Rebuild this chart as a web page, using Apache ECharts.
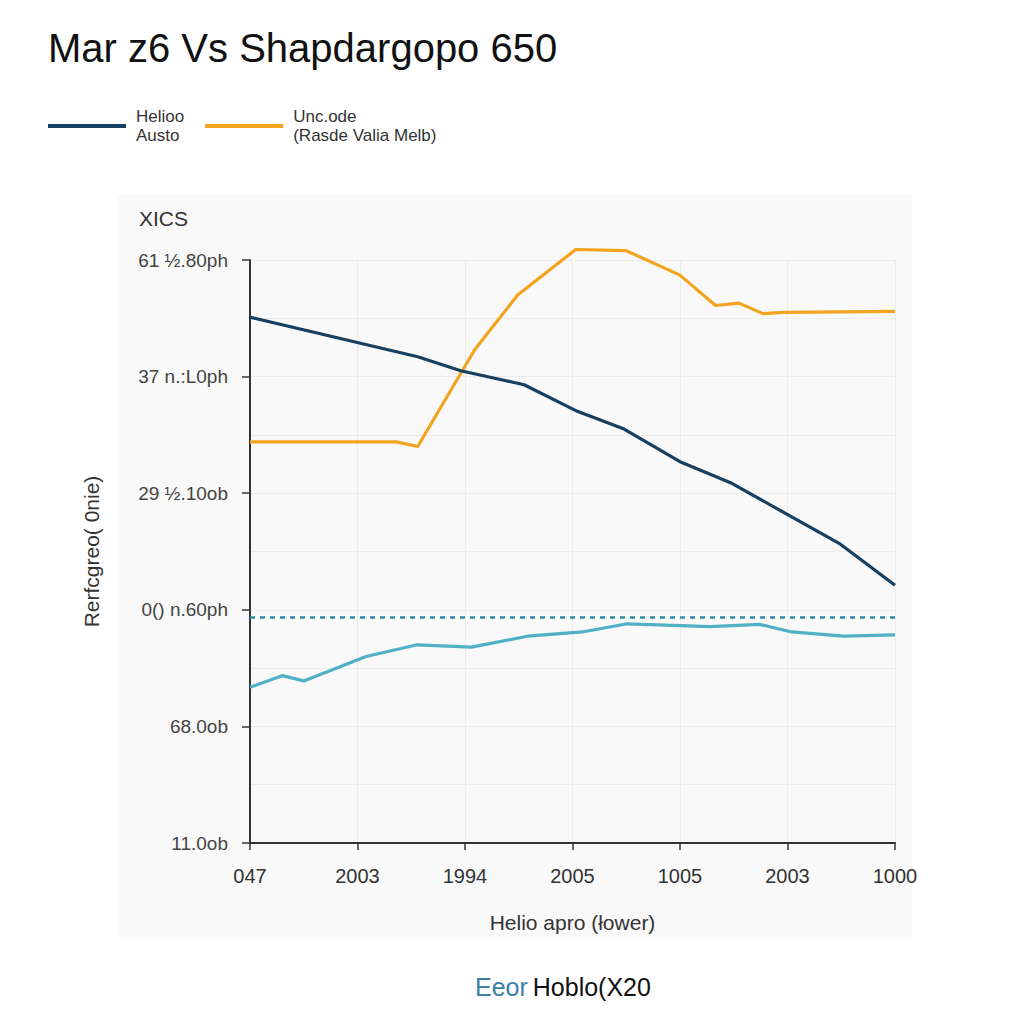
<!DOCTYPE html>
<html>
<head>
<meta charset="utf-8">
<script src="https://cdn.jsdelivr.net/npm/echarts@6/dist/echarts.min.js"></script>
<style>
html,body{margin:0;padding:0;background:#ffffff;}
#chart{width:1024px;height:1024px;}
</style>
</head>
<body>
<div id="chart"></div>
<script>
// ---- data ----
const titleText = "Mar z6 Vs Shapdargopo 650";
const xTickLabels = ["047", "2003", "1994", "2005", "1005", "2003", "1000"];
const yTickLabels = ["11.0ob", "68.0ob", "0() n.60ph", "29 ½.10ob", "37 n.:L0ph", "61 ½.80ph"];
const seriesNames = ["Helioo\nAusto", "Unc.ode\n(Rasde Valia Melb)", "Teal", "Teal ref"];
const navyPoints = [[0,4.51],[1.56,4.17],[1.96,4.05],[2.55,3.93],[3.05,3.70],[3.48,3.55],[4.0,3.27],[4.47,3.09],[5.48,2.57],[6.0,2.21]];
const orangePoints = [[0,3.44],[1.36,3.44],[1.56,3.40],[2.09,4.23],[2.49,4.70],[3.03,5.09],[3.50,5.08],[4.0,4.87],[4.33,4.61],[4.55,4.63],[4.77,4.54],[4.97,4.55],[6.0,4.56]];
const tealPoints = [[0,1.335],[0.30,1.435],[0.50,1.39],[1.08,1.60],[1.555,1.70],[2.06,1.68],[2.59,1.775],[3.09,1.81],[3.51,1.88],[4.28,1.855],[4.74,1.875],[5.04,1.81],[5.52,1.775],[6.0,1.785]];
const tealRefPoints = [[0,1.935],[6,1.935]];
const yAxisName = "Rerfcgreo( 0nie)";
const xAxisName = "Helio apro (łower)";
const yTopLabel = "XICS";
const footerBlue = "Eeor";
const footerBlack = "Hoblo(X20";

const chart = echarts.init(document.getElementById('chart'), null, {renderer: 'svg'});
const option = {
  backgroundColor: '#ffffff',
  animation: false,
  title: [
    {text: titleText, left: 43, top: 23, textStyle: {fontFamily: 'Liberation Sans', fontSize: 40, fontWeight: 'normal', color: '#111'}},
    {text: '{a|' + footerBlue + '} {b|' + footerBlack + '}', left: 470, top: 969, textStyle: {rich: {
      a: {fontFamily: 'Liberation Sans', fontSize: 25, fontWeight: 'normal', color: '#3b7ea6'},
      b: {fontFamily: 'Liberation Sans', fontSize: 25, fontWeight: 'normal', color: '#111'}
    }}}
  ],
  graphic: [
    {type: 'rect', z: -10, shape: {x: 118, y: 195, width: 794, height: 742}, style: {fill: '#f9f9f9'}},
    {type: 'text', left: 139, top: 208, style: {text: yTopLabel, fontFamily: 'Liberation Sans', fontSize: 21, fill: '#333'}}
  ],
  legend: {
    left: 43, top: 102, itemWidth: 78, itemHeight: 4, itemGap: 21, icon: 'rect',
    data: [seriesNames[0], seriesNames[1]],
    textStyle: {fontFamily: 'Liberation Sans', fontSize: 17, color: '#333', lineHeight: 19, padding: [0,0,0,5]}
  },
  grid: {left: 250, right: 129, top: 260, bottom: 181},
  xAxis: {
    type: 'value', min: 0, max: 6, interval: 1,
    name: xAxisName, nameLocation: 'middle', nameGap: 69,
    nameTextStyle: {fontFamily: 'Liberation Sans', fontSize: 21, color: '#333'},
    axisLine: {show: true, lineStyle: {color: '#333', width: 2}},
    axisTick: {show: true, length: 7, lineStyle: {color: '#333', width: 1.5}},
    axisLabel: {margin: 23, fontFamily: 'Liberation Sans', fontSize: 20, color: '#333',
      formatter: v => xTickLabels[Math.round(v)] ?? ''},
    splitLine: {show: true, lineStyle: {color: '#ececec', width: 1}}
  },
  yAxis: {
    type: 'value', min: 0, max: 5, interval: 1,
    name: yAxisName, nameLocation: 'middle', nameGap: 148, nameRotate: 90,
    nameTextStyle: {fontFamily: 'Liberation Sans', fontSize: 21, color: '#333'},
    axisLine: {show: true, lineStyle: {color: '#333', width: 2}},
    axisTick: {show: true, length: 8, lineStyle: {color: '#333', width: 1.5}},
    axisLabel: {margin: 22, fontFamily: 'Liberation Sans', fontSize: 19, color: '#444',
      formatter: v => yTickLabels[Math.round(v)] ?? ''},
    splitLine: {show: true, lineStyle: {color: '#ececec', width: 1}},
    minorTick: {show: false, splitNumber: 2},
    minorSplitLine: {show: true, lineStyle: {color: '#ececec', width: 1}}
  },
  series: [
    {name: seriesNames[3], type: 'line', data: tealRefPoints, symbol: 'none', silent: true,
      lineStyle: {color: '#2b8fa3', width: 2.5, type: [5, 5]}, itemStyle: {color: '#2b8fa3'}},
    {name: seriesNames[2], type: 'line', data: tealPoints, symbol: 'none',
      lineStyle: {color: '#4fb0c6', width: 3.2}, itemStyle: {color: '#4fb0c6'}},
    {name: seriesNames[1], type: 'line', data: orangePoints, symbol: 'none', clip: false,
      lineStyle: {color: '#f2a31f', width: 3.2}, itemStyle: {color: '#f2a31f'}},
    {name: seriesNames[0], type: 'line', data: navyPoints, symbol: 'none', z: 3,
      lineStyle: {color: '#173f5f', width: 3.2}, itemStyle: {color: '#173f5f'}}
  ]
};
chart.setOption(option);
</script>
</body>
</html>
